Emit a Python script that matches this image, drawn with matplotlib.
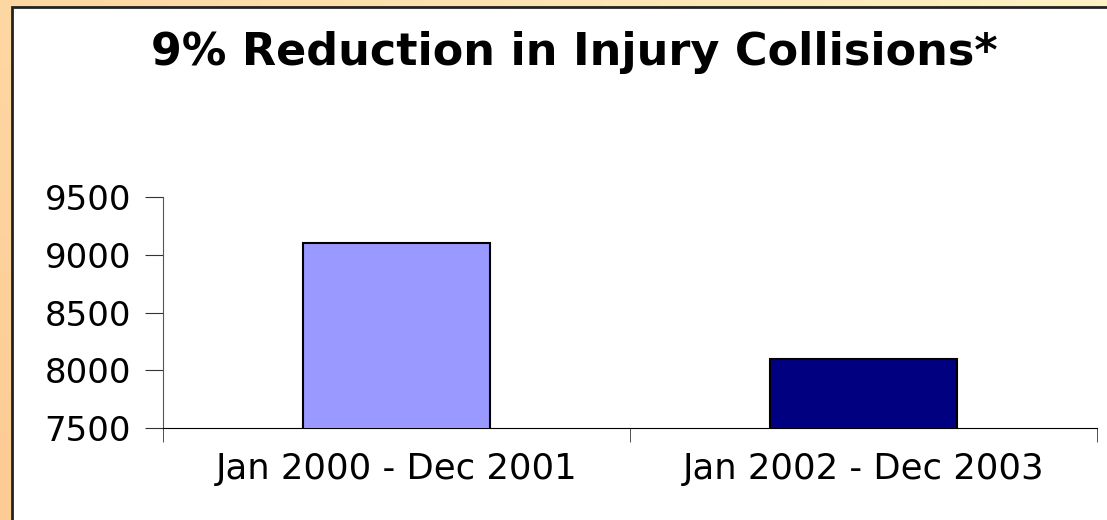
import numpy as np
import matplotlib.pyplot as plt
from matplotlib.colors import LinearSegmentedColormap
from matplotlib.patches import Rectangle

# Injury collisions for the two periods
periods = ['Jan 2000 - Dec 2001', 'Jan 2002 - Dec 2003']
collisions = [9100, 8100]
bar_colors = ['#9999FF', '#000080']
yticks = [7500, 8000, 8500, 9000, 9500]

W, H = 1107, 520
fig = plt.figure(figsize=(W / 100, H / 100), dpi=100)

# orange-to-pale-yellow backdrop
bg = fig.add_axes([0, 0, 1, 1], zorder=-2)
gx, gy = np.meshgrid(np.linspace(0, 1, 200), np.linspace(0, 1, 100))
grad = np.clip(0.55 * gx + 0.45 * gy, 0, 1)
cmap = LinearSegmentedColormap.from_list('bg', ['#FDCB94', '#FDD9A4', '#FEF2C4'])
bg.imshow(grad, cmap=cmap, origin='lower', extent=[0, 1, 0, 1], aspect='auto')
bg.add_patch(Rectangle((12 / W, -0.1), 1.2, 1 - 7 / H + 0.1, facecolor='white',
                       edgecolor='#222222', linewidth=2))
bg.set_xlim(0, 1)
bg.set_ylim(0, 1)
bg.axis('off')

plt.rcParams['font.family'] = ['DejaVu Sans']

ax = fig.add_axes([163 / W, 1 - 428 / H, (1097 - 163) / W, (428 - 197) / H])
ax.set_facecolor('none')
x = np.arange(len(periods))
ax.bar(x, collisions, width=0.4, color=bar_colors, edgecolor='black', linewidth=1.5, zorder=3)

ax.set_ylim(7500, 9500)
ax.set_xlim(-0.5, 1.5)
ax.set_yticks(yticks)
ax.set_yticklabels([str(v) for v in yticks], fontsize=24.5)
ax.set_xticks(x)
ax.set_xticklabels(periods, fontsize=25.5)
ax.set_xticks([-0.5, 0.5, 1.5], minor=True)
ax.tick_params(axis='x', which='major', length=0, pad=17)
ax.tick_params(axis='x', which='minor', length=10, direction='out', color='#333333')
ax.tick_params(axis='y', length=13, direction='out', pad=10, color='#333333')
ax.spines['top'].set_visible(False)
ax.spines['right'].set_visible(False)
ax.spines['left'].set_color('#555555')
ax.spines['bottom'].set_color('black')

fig.text(574 / W, 1 - 53 / H, '9% Reduction in Injury Collisions*', ha='center', va='center',
         fontsize=32, fontweight='bold')

fig.savefig('out.png', dpi=100)
